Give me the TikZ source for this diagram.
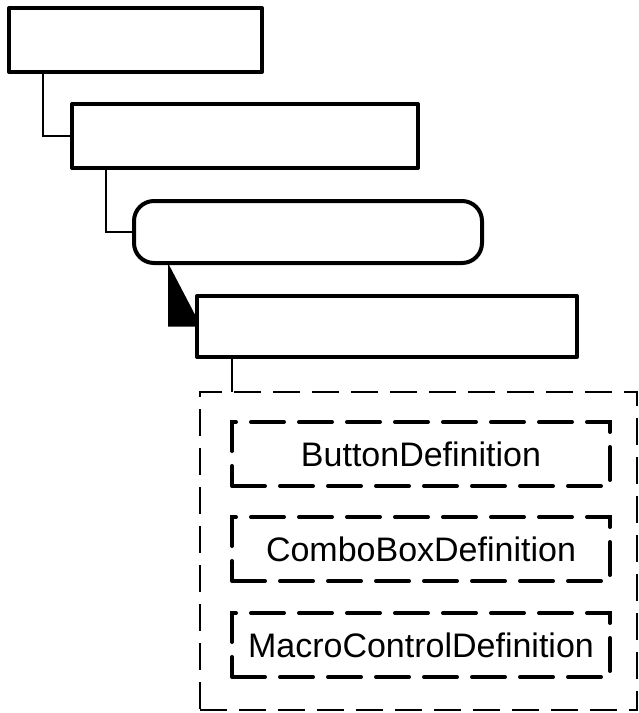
\documentclass[tikz,border=0pt]{standalone}
\usepackage{fontspec}
\setmainfont{Liberation Sans}
\usepackage{tikz}
\usetikzlibrary{positioning,calc}

\begin{document}
\begin{tikzpicture}[
      x=1pt, y=-1pt,
      elem/.style={draw, line width=4pt, line join=round, anchor=north west,
                   inner sep=0pt, outer sep=0pt},
      grp/.style={draw, line width=1.5pt, dash pattern=on 27pt off 12pt,
                  anchor=north west, inner sep=0pt, outer sep=0pt},
      item/.style={draw, line width=4pt, line cap=round, dash pattern=on 33pt off 15pt,
                   anchor=north west, inner sep=0pt, outer sep=0pt,
                   minimum width=378pt, minimum height=64pt,
                   font=\fontsize{34}{40}\selectfont},
      conn/.style={line width=1.5pt}
    ]
    \useasboundingbox (0,0) rectangle (639,713);
    \node[elem, minimum width=253pt, minimum height=64pt] (a) at (9,8) {};
    \node[elem, minimum width=346pt, minimum height=64pt] (b) at (72,104) {};
    \node[elem, minimum width=348pt, minimum height=62pt, rounded corners=20pt] (c) at (134,201) {};
    \node[elem, minimum width=380pt, minimum height=61pt] (d) at (197,296) {};
    \node[grp, minimum width=437pt, minimum height=318pt] (grp) at (200,392) {};
    \node[item] (e) at (232,422) {ButtonDefinition};
    \node[item] (f) at (232,517) {ComboBoxDefinition};
    \node[item] (g) at (232,613) {MacroControlDefinition};
    \draw[conn] ([xshift=34pt]a.south west) |- (b.west);
    \draw[conn] ([xshift=34pt]b.south west) |- (c.west);
    \coordinate (tip) at ([xshift=34pt]c.south west);
    \fill (tip) -- ([yshift=8pt]d.west) -- (d.west) -- (tip |- d.west) -- cycle;
    \draw[conn] ([xshift=35pt]d.south west) -- ([xshift=35pt]d.south west |- grp.north);
  \end{tikzpicture}
\end{document}
